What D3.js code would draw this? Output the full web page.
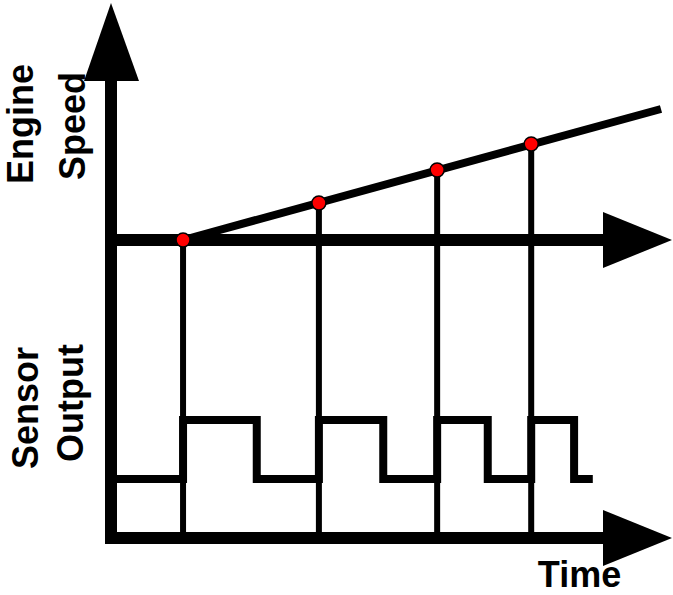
<!DOCTYPE html>
<html>
<head>
<meta charset="utf-8">
<script src="https://cdn.jsdelivr.net/npm/d3@7"></script>
<style>
  html, body { margin: 0; padding: 0; background: #fff; }
  svg { display: block; }
  text { font-family: "Liberation Sans", Arial, sans-serif; font-weight: bold; fill: #000; }
</style>
</head>
<body>
<svg id="chart" width="673" height="595"></svg>
<script>
// Time (arbitrary units) of each sensor rising edge, where engine speed is sampled
const riseTimes = [13.1, 37.8, 59.3, 76.4];
// Time of each sensor falling edge
const fallTimes = [26.5, 49.5, 68.5, 84.2];
// Engine speed at each rising edge
const speedAtRise = [0, 18.5, 35, 48];
// Engine speed ramp end point
const rampEndTime = 100;
const rampEndSpeed = 65.5;
// Sensor levels and where the trace stops
const sensorLow = 1, sensorHigh = 2;
const waveEndTime = 87.6;
// Axis labels
const speedLabel = ["Engine", "Speed"];
const sensorLabel = ["Sensor", "Output"];
const timeLabel = "Time";

const svg = d3.select("#chart");

const x = d3.scaleLinear().domain([0, 100]).range([111, 661]);
const ySpeed = d3.scaleLinear().domain([0, 100]).range([240, 40]);
const ySensor = d3.scaleLinear().domain([0, 2]).range([538, 420]);

// Square-wave sensor trace
const wavePts = [[0, sensorLow]];
riseTimes.forEach((t, i) => {
  wavePts.push([t, sensorHigh]);
  wavePts.push([fallTimes[i], sensorLow]);
});
wavePts.push([waveEndTime, sensorLow]);

svg.append("path")
  .attr("d", d3.line().x(d => x(d[0])).y(d => ySensor(d[1])).curve(d3.curveStepAfter)(wavePts))
  .attr("fill", "none")
  .attr("stroke", "#000")
  .attr("stroke-width", 8);

// Vertical markers from each speed sample down to the time axis
svg.selectAll("line.marker")
  .data(riseTimes)
  .join("line")
  .attr("class", "marker")
  .attr("x1", d => x(d)).attr("x2", d => x(d))
  .attr("y1", (d, i) => ySpeed(speedAtRise[i]))
  .attr("y2", ySensor(0))
  .attr("stroke", "#000")
  .attr("stroke-width", 6);

// Axes with arrow heads
const axisW = 12;
const x0 = x(0);
svg.append("line")
  .attr("x1", x0).attr("x2", x0)
  .attr("y1", ySensor(0) + axisW / 2).attr("y2", 60)
  .attr("stroke", "#000").attr("stroke-width", axisW);
svg.append("path")
  .attr("d", `M${x0},3 L${x0 + 28},81 L${x0 - 27},81 Z`)
  .attr("fill", "#000");

[ySpeed(0), ySensor(0)].forEach(yy => {
  svg.append("line")
    .attr("x1", x0 - axisW / 2).attr("x2", 620)
    .attr("y1", yy).attr("y2", yy)
    .attr("stroke", "#000").attr("stroke-width", axisW);
  svg.append("path")
    .attr("d", `M672,${yy} L603,${yy - 28} L603,${yy + 28} Z`)
    .attr("fill", "#000");
});

// Engine speed ramp
svg.append("line")
  .attr("x1", x(riseTimes[0])).attr("y1", ySpeed(speedAtRise[0]))
  .attr("x2", x(rampEndTime)).attr("y2", ySpeed(rampEndSpeed))
  .attr("stroke", "#000").attr("stroke-width", 8);

// Sample points
svg.selectAll("circle.sample")
  .data(riseTimes)
  .join("circle")
  .attr("class", "sample")
  .attr("cx", d => x(d))
  .attr("cy", (d, i) => ySpeed(speedAtRise[i]))
  .attr("r", 7)
  .attr("fill", "#ff0000")
  .attr("stroke", "#000")
  .attr("stroke-width", 1.5);

// Labels
function vLabel(txt, bx, cy, size) {
  svg.append("text")
    .attr("transform", `translate(${bx},${cy}) rotate(-90)`)
    .attr("text-anchor", "middle")
    .style("font-size", size + "px")
    .text(txt);
}
vLabel(speedLabel[0], 33, 124, 36);
vLabel(speedLabel[1], 85, 126, 36);
vLabel(sensorLabel[0], 38, 408, 36);
vLabel(sensorLabel[1], 83, 403, 36);

svg.append("text")
  .attr("x", 579.5).attr("y", 587)
  .attr("text-anchor", "middle")
  .style("font-size", "36px")
  .text(timeLabel);
</script>
</body>
</html>
